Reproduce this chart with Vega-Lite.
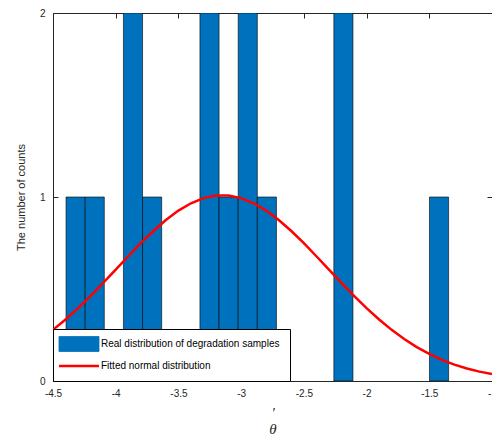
{
  "$schema": "https://vega.github.io/schema/vega-lite/v6.json",
  "width": 439,
  "height": 368,
  "autosize": "none",
  "padding": {"left": 53, "top": 13, "right": 0, "bottom": 56},
  "background": "white",
  "config": {
    "view": {"stroke": null},
    "font": "Liberation Sans",
    "axis": {
      "grid": false,
      "domainColor": "#262626",
      "domainWidth": 1,
      "tickColor": "#262626",
      "labelColor": "#262626",
      "titleColor": "#262626",
      "labelFont": "Liberation Sans",
      "labelFontSize": 10,
      "titleFontWeight": "normal"
    },
    "legend": {
      "orient": "bottom-left",
      "offset": 0,
      "title": null,
      "padding": 10,
      "rowPadding": 7,
      "labelOffset": 28,
      "symbolSize": 225,
      "labelFont": "Liberation Sans",
      "labelFontSize": 10,
      "labelColor": "black",
      "labelLimit": 500,
      "strokeColor": "black",
      "fillColor": "white"
    }
  },
  "datasets": {
    "bins": [
      {"x0": -4.396, "x1": -4.2435, "count": 1},
      {"x0": -4.2435, "x1": -4.091, "count": 1},
      {"x0": -3.9385, "x1": -3.786, "count": 2},
      {"x0": -3.786, "x1": -3.6335, "count": 1},
      {"x0": -3.3285, "x1": -3.176, "count": 2},
      {"x0": -3.176, "x1": -3.0235, "count": 1},
      {"x0": -3.0235, "x1": -2.871, "count": 2},
      {"x0": -2.871, "x1": -2.7185, "count": 1},
      {"x0": -2.261, "x1": -2.1085, "count": 2},
      {"x0": -1.4985, "x1": -1.346, "count": 1}
    ],
    "fit": [
      {"theta": -4.5, "density": 0.278},
      {"theta": -4.4, "density": 0.334},
      {"theta": -4.3, "density": 0.396},
      {"theta": -4.2, "density": 0.463},
      {"theta": -4.1, "density": 0.533},
      {"theta": -4.0, "density": 0.605},
      {"theta": -3.9, "density": 0.678},
      {"theta": -3.8, "density": 0.749},
      {"theta": -3.7, "density": 0.815},
      {"theta": -3.6, "density": 0.875},
      {"theta": -3.5, "density": 0.926},
      {"theta": -3.4, "density": 0.966},
      {"theta": -3.3, "density": 0.994},
      {"theta": -3.2, "density": 1.008},
      {"theta": -3.1, "density": 1.008},
      {"theta": -3.0, "density": 0.994},
      {"theta": -2.9, "density": 0.966},
      {"theta": -2.8, "density": 0.926},
      {"theta": -2.7, "density": 0.875},
      {"theta": -2.6, "density": 0.815},
      {"theta": -2.5, "density": 0.749},
      {"theta": -2.4, "density": 0.678},
      {"theta": -2.3, "density": 0.605},
      {"theta": -2.2, "density": 0.533},
      {"theta": -2.1, "density": 0.463},
      {"theta": -2.0, "density": 0.396},
      {"theta": -1.9, "density": 0.334},
      {"theta": -1.8, "density": 0.278},
      {"theta": -1.7, "density": 0.228},
      {"theta": -1.6, "density": 0.184},
      {"theta": -1.5, "density": 0.147},
      {"theta": -1.4, "density": 0.115},
      {"theta": -1.3, "density": 0.089},
      {"theta": -1.2, "density": 0.068},
      {"theta": -1.1, "density": 0.051},
      {"theta": -1.0, "density": 0.038}
    ]
  },
  "layer": [
    {
      "data": {"name": "bins"},
      "mark": {"type": "bar", "stroke": "black", "strokeWidth": 0.6, "clip": true, "opacity": 1},
      "encoding": {
        "x": {
          "field": "x0",
          "type": "quantitative",
          "scale": {"domain": [-4.5, -1], "nice": false, "zero": false},
          "axis": {
            "orient": "bottom",
            "values": [-4.5, -4, -3.5, -3, -2.5, -2, -1.5, -1],
            "labelExpr": "'' + datum.value",
            "tickSize": 0,
            "labelPadding": 7,
            "labelFlush": false,
            "title": ["'", "θ"],
            "titleFont": "Liberation Serif",
            "titleFontStyle": "italic",
            "titleFontSize": 15,
            "titleLineHeight": 16,
            "titlePadding": 7
          }
        },
        "x2": {"field": "x1"},
        "y": {
          "field": "count",
          "type": "quantitative",
          "scale": {"domain": [0, 2], "nice": false},
          "axis": {
            "orient": "left",
            "values": [0, 1, 2],
            "labelExpr": "'' + datum.value",
            "tickSize": -5,
            "labelPadding": 13,
            "title": "The number of counts",
            "titleFontSize": 11,
            "titleFont": "Liberation Sans",
            "titlePadding": 13
          }
        },
        "y2": {"datum": 0},
        "color": {
          "datum": "Real distribution of degradation samples",
          "type": "nominal",
          "scale": {
            "domain": ["Real distribution of degradation samples", "Fitted normal distribution"],
            "range": ["#0072BD", "#FF0000"]
          },
          "legend": {
            "encode": {
              "symbols": {
                "update": {
                  "x": {"value": 16},
                  "shape": {"signal": "datum.value == 'Fitted normal distribution' ? 'M-2.667,0H2.667' : 'M-2.667,-1H2.667V1H-2.667Z'"},
                  "stroke": {"signal": "datum.value == 'Fitted normal distribution' ? '#FF0000' : 'black'"},
                  "fill": {"signal": "datum.value == 'Fitted normal distribution' ? 'transparent' : '#0072BD'"},
                  "strokeWidth": {"signal": "datum.value == 'Fitted normal distribution' ? 2.5 : 0.8"},
                  "opacity": {"value": 1}
                }
              }
            }
          }
        }
      }
    },
    {
      "data": {"name": "fit"},
      "mark": {"type": "line", "strokeWidth": 2.5, "clip": true},
      "encoding": {
        "x": {
          "field": "theta",
          "type": "quantitative",
          "axis": {
            "orient": "top",
            "values": [-4.5, -4, -3.5, -3, -2.5, -2, -1.5, -1],
            "labels": false,
            "tickSize": -5,
            "title": null
          }
        },
        "y": {
          "field": "density",
          "type": "quantitative",
          "axis": {
            "orient": "right",
            "values": [0, 1, 2],
            "labels": false,
            "tickSize": -5,
            "title": null
          }
        },
        "color": {
          "datum": "Fitted normal distribution",
          "type": "nominal",
          "legend": {
            "encode": {
              "symbols": {
                "update": {
                  "x": {"value": 16},
                  "shape": {"signal": "datum.value == 'Fitted normal distribution' ? 'M-2.667,0H2.667' : 'M-2.667,-1H2.667V1H-2.667Z'"},
                  "stroke": {"signal": "datum.value == 'Fitted normal distribution' ? '#FF0000' : 'black'"},
                  "fill": {"signal": "datum.value == 'Fitted normal distribution' ? 'transparent' : '#0072BD'"},
                  "strokeWidth": {"signal": "datum.value == 'Fitted normal distribution' ? 2.5 : 0.8"},
                  "opacity": {"value": 1}
                }
              }
            }
          }
        }
      }
    }
  ],
  "resolve": {"axis": {"x": "independent", "y": "independent"}}
}
